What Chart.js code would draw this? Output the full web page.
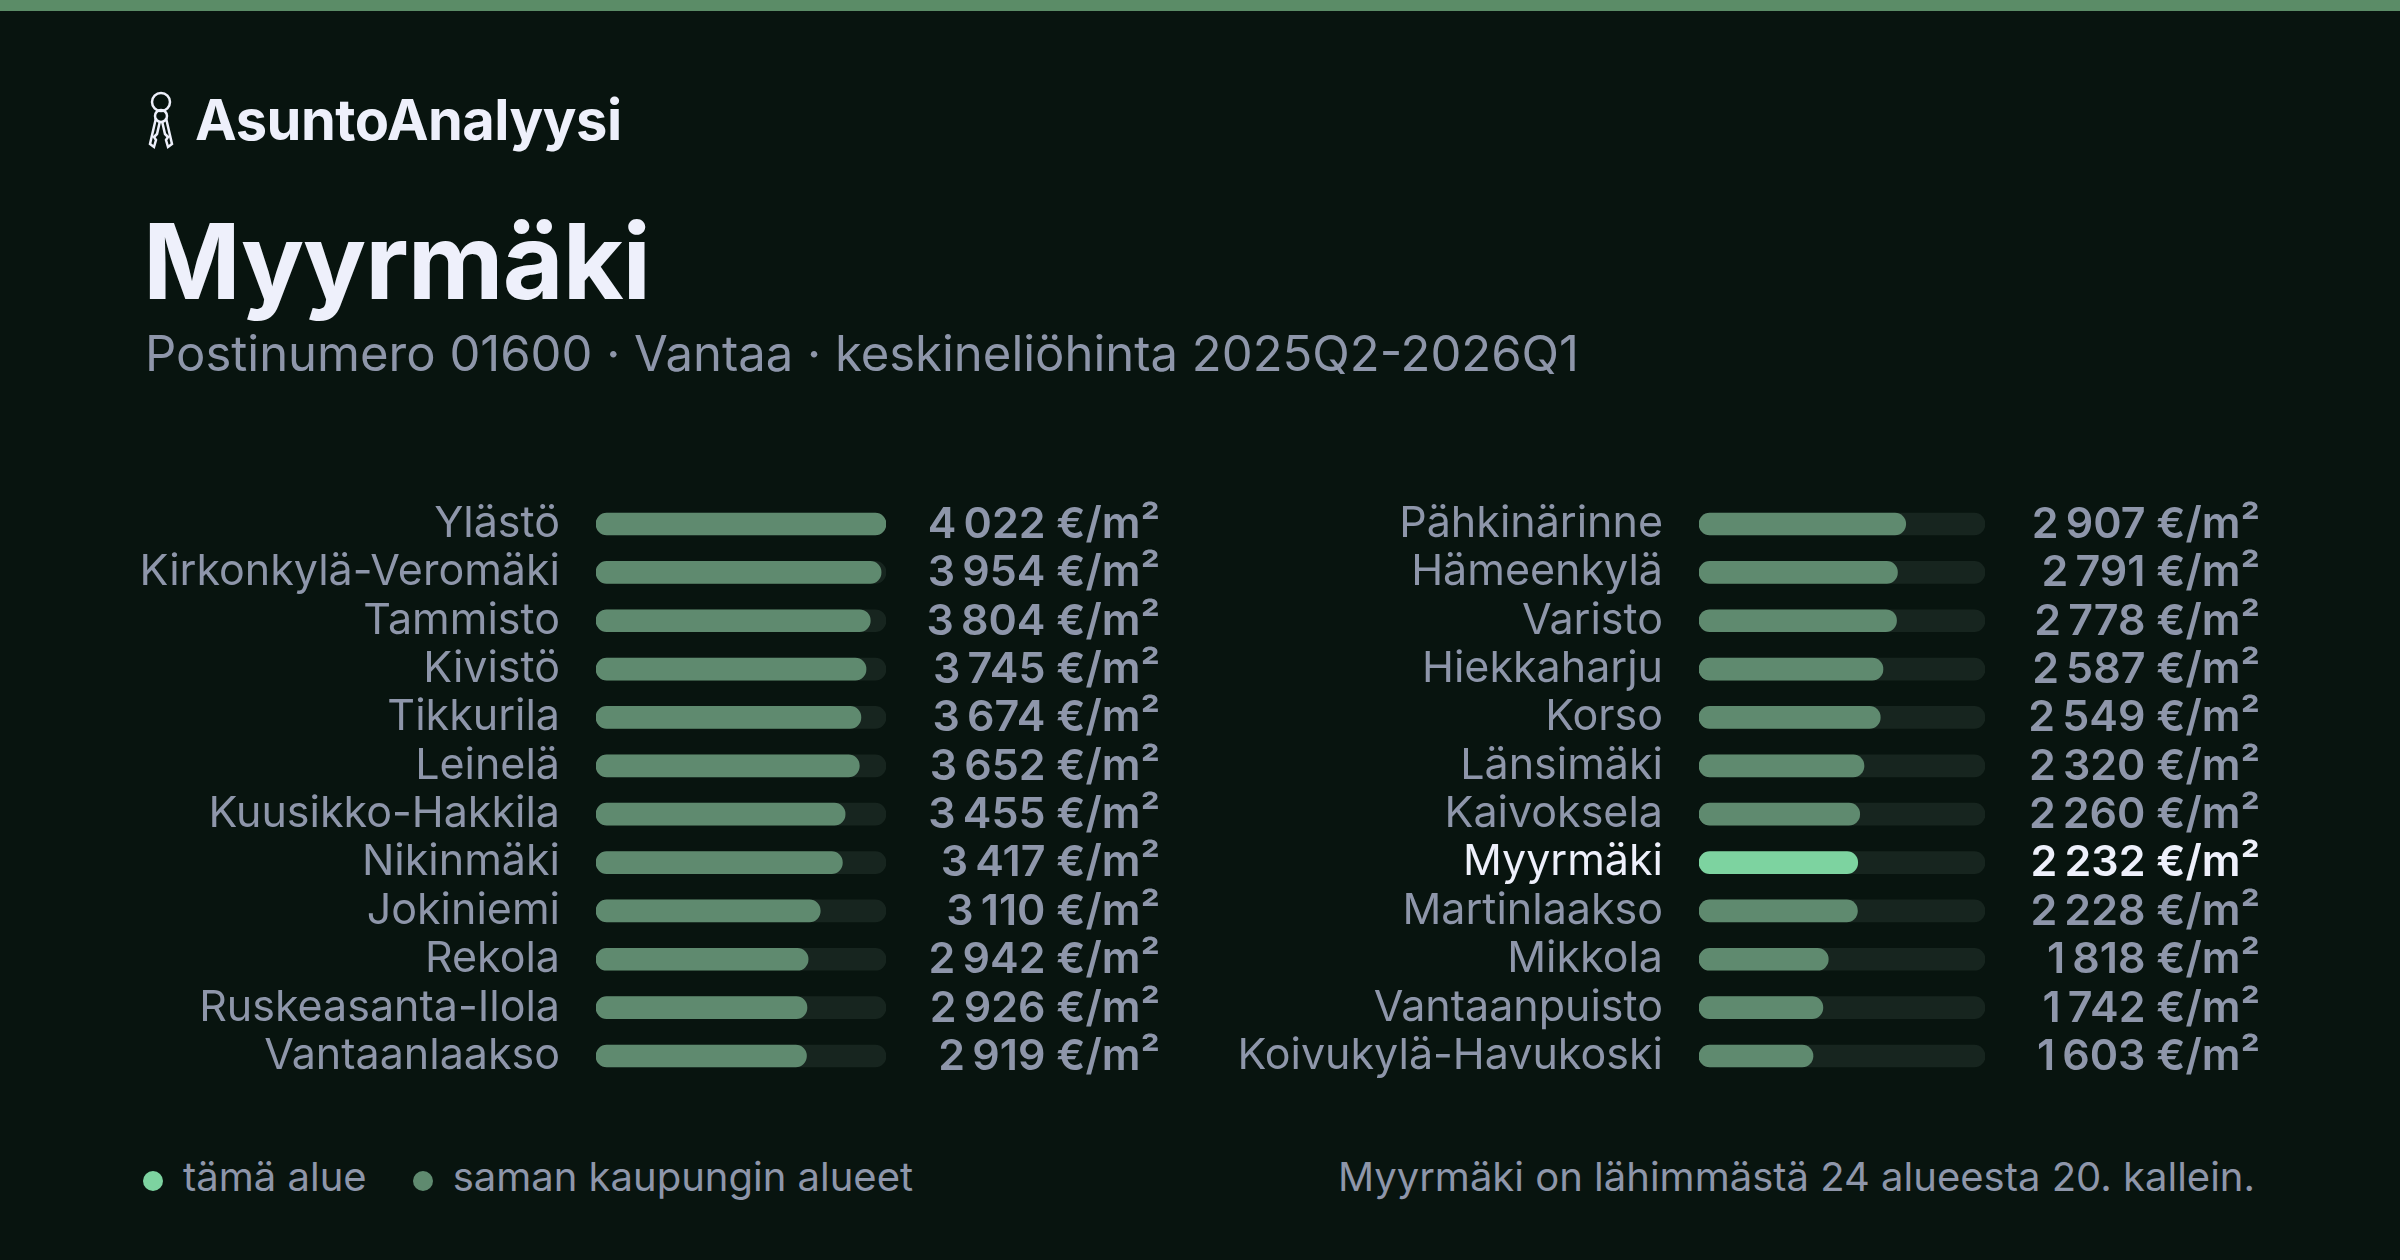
<!DOCTYPE html>
<html>
<head>
<meta charset="utf-8">
<script src="https://cdn.jsdelivr.net/npm/chart.js@4"></script>
<style>
  html, body { margin: 0; padding: 0; background: #08140f; }
  body { width: 2400px; height: 1260px; position: relative; overflow: hidden; font-family: Inter, "Noto Sans", sans-serif; }
  .topbar { position: absolute; left: 0; top: 0; width: 2400px; height: 11px; background: #5b8c67; }
  .brand { position: absolute; left: 143px; top: 86px; font-size: 56px; font-weight: 700; color: #eef0fb; display: flex; align-items: center; gap: 16px; letter-spacing: -0.5px; }
  .title { position: absolute; left: 143px; top: 197px; font-size: 105px; font-weight: 700; color: #eef0fb; letter-spacing: -1px; }
  .sub { position: absolute; left: 145px; top: 324px; font-size: 49px; color: #8e96aa; }
  .wrap { position: absolute; top: 446px; }
  .legend { position: absolute; left: 143px; top: 1152px; font-size: 40px; color: #8e96aa; display: flex; align-items: center; }
  .dot { width: 20px; height: 20px; border-radius: 50%; display: inline-block; margin-right: 20px; margin-top: 8px; }
  .foot { position: absolute; right: 145px; top: 1152px; font-size: 40px; color: #8e96aa; }
</style>
</head>
<body>
<div class="topbar"></div>
<div class="brand">
  <svg width="36" height="60" viewBox="0 0 36 60" fill="none" stroke="#eef0fb" stroke-width="2.5">
    <circle cx="18" cy="12" r="9"/>
    <circle cx="18" cy="26" r="6"/>
    <path d="M13 28 L7 54 L11 57 L13 50 L11 47 L14 44 L17 31"/>
    <path d="M23 28 L29 54 L25 57 L23 50 L25 47 L22 44 L19 31"/>
  </svg>
  <span>AsuntoAnalyysi</span>
</div>
<div class="title">Myyrmäki</div>
<div class="sub">Postinumero 01600 · Vantaa · keskineliöhinta 2025Q2-2026Q1</div>
<div class="wrap" style="left:100px"><canvas id="left" width="1060" height="688"></canvas></div>
<div class="wrap" style="left:1180px"><canvas id="right" width="1080" height="688"></canvas></div>
<div class="legend">
  <span class="dot" style="background:#7dd3a0"></span><span>tämä alue</span>
  <span class="dot" style="background:#5f8a6f;margin-left:46px"></span><span>saman kaupungin alueet</span>
</div>
<div class="foot">Myyrmäki on lähimmästä 24 alueesta 20. kallein.</div>
<script>
const leftAreas = ['Ylästö', 'Kirkonkylä-Veromäki', 'Tammisto', 'Kivistö', 'Tikkurila', 'Leinelä',
  'Kuusikko-Hakkila', 'Nikinmäki', 'Jokiniemi', 'Rekola', 'Ruskeasanta-Ilola', 'Vantaanlaakso'];
const leftPrices = [4022, 3954, 3804, 3745, 3674, 3652, 3455, 3417, 3110, 2942, 2926, 2919];
const rightAreas = ['Pähkinärinne', 'Hämeenkylä', 'Varisto', 'Hiekkaharju', 'Korso', 'Länsimäki',
  'Kaivoksela', 'Myyrmäki', 'Martinlaakso', 'Mikkola', 'Vantaanpuisto', 'Koivukylä-Havukoski'];
const rightPrices = [2907, 2791, 2778, 2587, 2549, 2320, 2260, 2232, 2228, 1818, 1742, 1603];
const current = 'Myyrmäki';
const maxPrice = Math.max(...leftPrices, ...rightPrices);

const fmt = v => v.toLocaleString('fi-FI').replace(/\s/g, '\u2009') + ' €/m²';

function makeChart(id, areas, prices, labelWidth, valueRight) {
  const canvas = document.getElementById(id);
  const valuePlugin = {
    id: 'values',
    afterDatasetsDraw(chart) {
      const c = chart.ctx;
      const y = chart.scales.y;
      c.save();
      c.font = '600 43px Inter, "Noto Sans", sans-serif';
      c.textAlign = 'right';
      c.textBaseline = 'middle';
      prices.forEach((p, i) => {
        c.fillStyle = areas[i] === current ? '#eef0fb' : '#8e96aa';
        c.fillText(fmt(p), chart.chartArea.right + valueRight, y.getPixelForValue(i) + 1);
      });
      c.restore();
    }
  };
  return new Chart(canvas, {
    type: 'bar',
    data: {
      labels: areas,
      datasets: [
        {
          data: prices,
          backgroundColor: areas.map(a => a === current ? '#7dd3a0' : '#5f8a6f'),
          borderRadius: 11, borderSkipped: false, barThickness: 22
        },
        {
          data: prices.map(() => maxPrice),
          backgroundColor: '#17251f',
          borderRadius: 11, borderSkipped: false, barThickness: 22
        }
      ]
    },
    options: {
      indexAxis: 'y',
      responsive: false,
      devicePixelRatio: 1,
      animation: false,
      layout: { padding: { right: valueRight, top: 0, bottom: 0, left: 0 } },
      datasets: { bar: { grouped: false } },
      scales: {
        x: { display: false, min: 0, max: maxPrice },
        y: {
          grid: { display: false },
          border: { display: false },
          afterFit(s) { s.width = labelWidth; },
          ticks: {
            padding: 28,
            font: { size: 43, family: 'Inter, "Noto Sans", sans-serif' },
            color: ctx => areas[ctx.index] === current ? '#eef0fb' : '#8e96aa'
          }
        }
      },
      plugins: { legend: { display: false }, tooltip: { enabled: false } }
    },
    plugins: [valuePlugin]
  });
}

makeChart('left', leftAreas, leftPrices, 496, 274);
makeChart('right', rightAreas, rightPrices, 519, 275);
</script>
</body>
</html>
